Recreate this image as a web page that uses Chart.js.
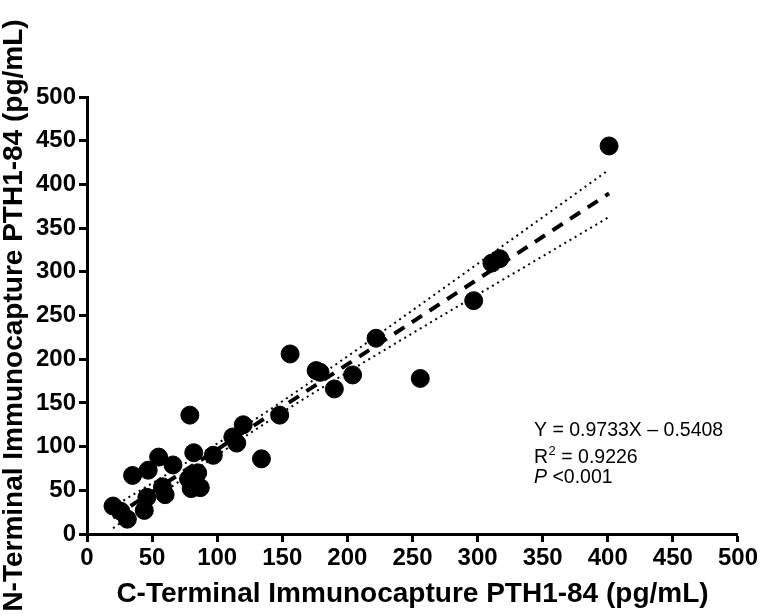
<!DOCTYPE html>
<html>
<head>
<meta charset="utf-8">
<script src="https://cdn.jsdelivr.net/npm/chart.js@4/dist/chart.umd.min.js"></script>
<style>
  html, body { margin: 0; padding: 0; background: #fff; }
  #wrap { width: 760px; height: 615px; }
</style>
</head>
<body>
<div id="wrap"><canvas id="c" width="760" height="615"></canvas></div>
<script>
// Measured points: C-terminal (x) vs N-terminal (y), pg/mL
const cTerminal = [401, 311, 317, 297, 222, 256, 204, 190, 176, 179, 156, 148, 134, 120, 112, 115, 97, 79, 82, 85, 78, 80, 87, 66, 55, 47, 35, 58, 60, 46, 44, 20, 26, 31];
const nTerminal = [444, 310, 315, 267, 224, 178, 182, 166, 187, 185, 206, 136, 86, 125, 111, 104, 90, 136, 93, 70, 63, 52, 53, 79, 88, 73, 67, 54, 45, 42, 27, 32, 26, 17];

// Regression line (from the annotation) drawn between the data extremes
const fitX = [20, 401];
const fitY = [18.9, 389.7];

// 95% confidence band
const bandX = [20, 60, 100, 130, 160, 200, 250, 300, 350, 401];
const bandUpper = [31.2, 67.0, 103.5, 132.0, 161.9, 203.2, 255.9, 309.1, 362.4, 416.9];
const bandLower = [6.6, 48.8, 90.1, 120.0, 148.5, 185.0, 229.7, 273.9, 317.8, 362.7];

const xTicks = [0, 50, 100, 150, 200, 250, 300, 350, 400, 450, 500];
const yTicks = [0, 50, 100, 150, 200, 250, 300, 350, 400, 450, 500];

const xTitle = 'C-Terminal Immunocapture PTH1-84 (pg/mL)';
const yTitle = 'N-Terminal Immunocapture PTH1-84 (pg/mL)';
const statLines = ['Y = 0.9733X \u2013 0.5408', 'R', '2', ' = 0.9226', 'P', ' <0.001'];

const FONT = '"Liberation Sans", Arial, Helvetica, sans-serif';

const toXY = (xs, ys) => xs.map((x, i) => ({ x: x, y: ys[i] }));

const statsPlugin = {
  id: 'stats',
  afterDraw(chart) {
    const ctx = chart.ctx;
    const a = chart.chartArea;
    const x0 = a.left + 447;
    ctx.save();
    ctx.fillStyle = '#000';
    ctx.textBaseline = 'alphabetic';
    ctx.textAlign = 'left';
    ctx.font = '19.5px ' + FONT;
    ctx.fillText(statLines[0], x0, a.top + 338.5);
    // R^2 line
    let y2 = a.top + 366;
    ctx.fillText(statLines[1], x0, y2);
    let w = ctx.measureText(statLines[1]).width;
    ctx.font = '13px ' + FONT;
    ctx.fillText(statLines[2], x0 + w + 0.5, y2 - 8);
    let w2 = ctx.measureText(statLines[2]).width;
    ctx.font = '19.5px ' + FONT;
    ctx.fillText(statLines[3], x0 + w + w2 + 0.5, y2);
    // P line
    let y3 = a.top + 386;
    ctx.font = 'italic 19.5px ' + FONT;
    ctx.fillText(statLines[4], x0, y3);
    let w3 = ctx.measureText(statLines[4]).width;
    ctx.font = '19.5px ' + FONT;
    ctx.fillText(statLines[5], x0 + w3, y3);
    ctx.restore();
  }
};

new Chart(document.getElementById('c'), {
  type: 'scatter',
  data: {
    datasets: [
      {
        type: 'line',
        data: toXY(bandX, bandUpper),
        borderColor: '#000',
        borderWidth: 2,
        borderDash: [2, 4],
        pointRadius: 0,
        fill: false,
        cubicInterpolationMode: 'monotone',
        order: 3
      },
      {
        type: 'line',
        data: toXY(bandX, bandLower),
        borderColor: '#000',
        borderWidth: 2,
        borderDash: [2, 4],
        pointRadius: 0,
        fill: false,
        cubicInterpolationMode: 'monotone',
        order: 3
      },
      {
        type: 'line',
        data: toXY(fitX, fitY),
        borderColor: '#000',
        borderWidth: 4,
        borderDash: [12, 9],
        borderCapStyle: 'butt',
        pointRadius: 0,
        fill: false,
        order: 2
      },
      {
        type: 'scatter',
        data: toXY(cTerminal, nTerminal),
        backgroundColor: '#000',
        borderColor: '#000',
        pointRadius: 9,
        pointHoverRadius: 9,
        order: 1
      }
    ]
  },
  options: {
    responsive: false,
    animation: false,
    devicePixelRatio: 1,
    layout: { padding: { left: 0, right: 20.5, top: 97, bottom: 0 } },
    plugins: { legend: { display: false }, tooltip: { enabled: false } },
    scales: {
      x: {
        type: 'linear',
        min: 0, max: 500,
        afterBuildTicks: (s) => { s.ticks = xTicks.map(v => ({ value: v })); },
        afterFit: (s) => { s.height = 81; },
        ticks: { color: '#000', font: { family: FONT, size: 24, weight: 'bold' }, padding: 2, maxRotation: 0, autoSkip: false },
        grid: { display: true, drawOnChartArea: false, drawTicks: true, tickLength: 8, tickWidth: 3, tickColor: '#000' },
        border: { display: true, width: 3, color: '#000' },
        title: { display: true, text: xTitle, color: '#000', font: { family: FONT, size: 28, weight: 'bold', lineHeight: 1.2 }, padding: { top: 0, bottom: 4 } }
      },
      y: {
        type: 'linear',
        min: 0, max: 500,
        afterBuildTicks: (s) => { s.ticks = yTicks.map(v => ({ value: v })); },
        afterFit: (s) => { s.width = 87; },
        ticks: { color: '#000', font: { family: FONT, size: 24, weight: 'bold' }, padding: 3, autoSkip: false },
        grid: { display: true, drawOnChartArea: false, drawTicks: true, tickLength: 8, tickWidth: 3, tickColor: '#000' },
        border: { display: true, width: 3, color: '#000' },
        title: { display: true, text: yTitle, color: '#000', font: { family: FONT, size: 28, weight: 'bold', lineHeight: 1.0 }, padding: { top: 0, bottom: 0 } }
      }
    }
  },
  plugins: [statsPlugin]
});
</script>
</body>
</html>
